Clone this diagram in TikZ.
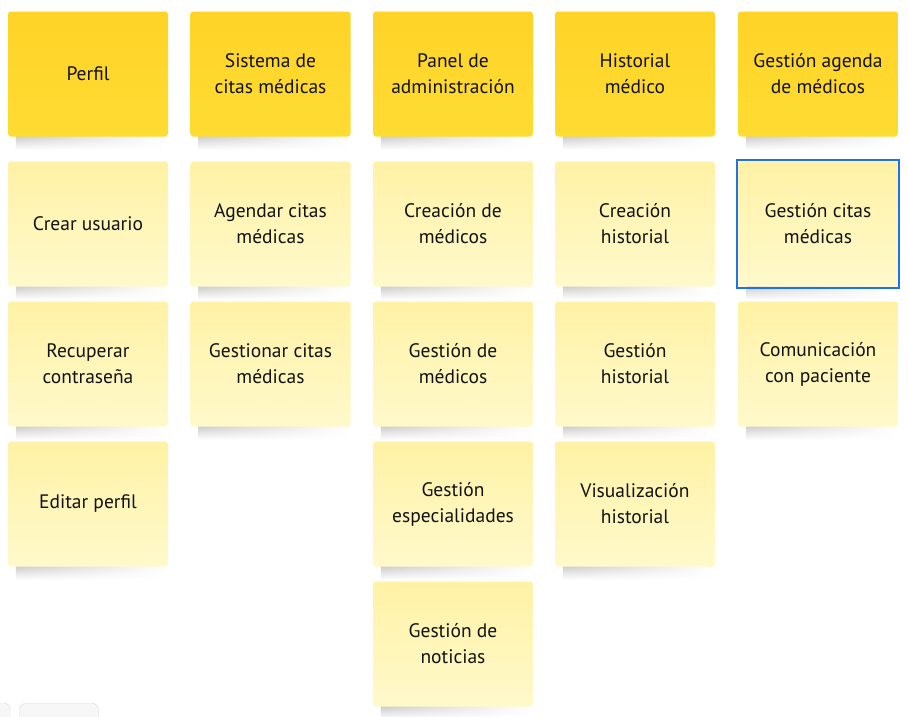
\documentclass[tikz,border=0pt]{standalone}
\usepackage{fontspec}
\setmainfont{PT Sans}
\usepackage{tikz}
\usetikzlibrary{backgrounds,fadings}
\definecolor{headtop}{RGB}{255,211,40}
\definecolor{headbot}{RGB}{255,220,50}
\definecolor{notetop}{RGB}{255,242,166}
\definecolor{notebot}{RGB}{255,249,203}
\definecolor{selblue}{RGB}{30,115,235}
\definecolor{inktext}{RGB}{18,18,18}
\tikzfading[name=shadowfade, left color=transparent!10, right color=transparent!100]
\tikzset{
  sticky/.style={rectangle, rounded corners=3pt, minimum width=160pt,
    minimum height=125pt, align=center, text=inktext,
    font=\fontsize{19.5}{26}\selectfont},
  header/.style={sticky, top color=headtop, bottom color=headbot},
  task/.style={sticky, top color=notetop, bottom color=notebot},
  noteshadow/.style={top color=black!24, bottom color=white, path fading=shadowfade},
  selbox/.style={draw=selblue, line width=2pt},
  uibtn/.style={draw=black!15, fill=black!3, rounded corners=6pt}
}

\begin{document}
\begin{tikzpicture}[x=1pt,y=1pt]

\clip (0,0) rectangle (908,-716);
\useasboundingbox (0,0) rectangle (908,-716);

% Headers
\node[header] (perfil) at (88,-74) {Perfil};
\node[header] (citas) at (270.5,-74) {Sistema de\\citas médicas};
\node[header] (admin) at (453,-74) {Panel de\\administración};
\node[header] (historial) at (635,-74) {Historial\\médico};
\node[header] (agenda) at (818,-74) {Gestión agenda\\de médicos};

% Perfil
\node[task] (crear) at (88,-224) {Crear usuario};
\node[task] (recuperar) at (88,-364) {Recuperar\\contraseña};
\node[task] (editar) at (88,-504) {Editar perfil};

% Sistema de citas
\node[task] (agendar) at (270.5,-224) {Agendar citas\\médicas};
\node[task] (gestionar) at (270.5,-364) {Gestionar citas\\médicas};

% Panel de administracion
\node[task] (cmedicos) at (453,-224) {Creación de\\médicos};
\node[task] (gmedicos) at (453,-364) {Gestión de\\médicos};
\node[task] (gesp) at (453,-504) {Gestión\\especialidades};
\node[task] (gnoticias) at (453,-644) {Gestión de\\noticias};

% Historial medico
\node[task] (chist) at (635,-224) {Creación\\historial};
\node[task] (ghist) at (635,-364) {Gestión\\historial};
\node[task] (vhist) at (635,-504) {Visualización\\historial};

% Agenda de medicos
\node[task] (gcitas) at (818,-224) {Gestión citas\\médicas};
\node[task] (comunic) at (818,-364) {Comunicación\\con paciente};

% Shadows under the notes
\begin{scope}[on background layer]
  \fill[white] (0,0) rectangle (908,-716);
  \foreach \n in {perfil,citas,admin,historial,agenda,crear,recuperar,editar,
      agendar,gestionar,cmedicos,gmedicos,gesp,gnoticias,chist,ghist,vhist,
      gcitas,comunic}
    \shade[noteshadow] ([xshift=8pt,yshift=2pt]\n.south west)
      rectangle ([xshift=-4pt,yshift=-13pt]\n.south east);
\end{scope}

% Selection frame
\draw[selbox] ([shift={(-1,1)}]gcitas.north west) rectangle ([shift={(1,-1)}]gcitas.south east);

% Toolbar stubs
\draw[uibtn] (-60,-703) rectangle (10,-740);
\draw[uibtn] (19.5,-703.5) rectangle (98.5,-740);

\end{tikzpicture}
\end{document}
